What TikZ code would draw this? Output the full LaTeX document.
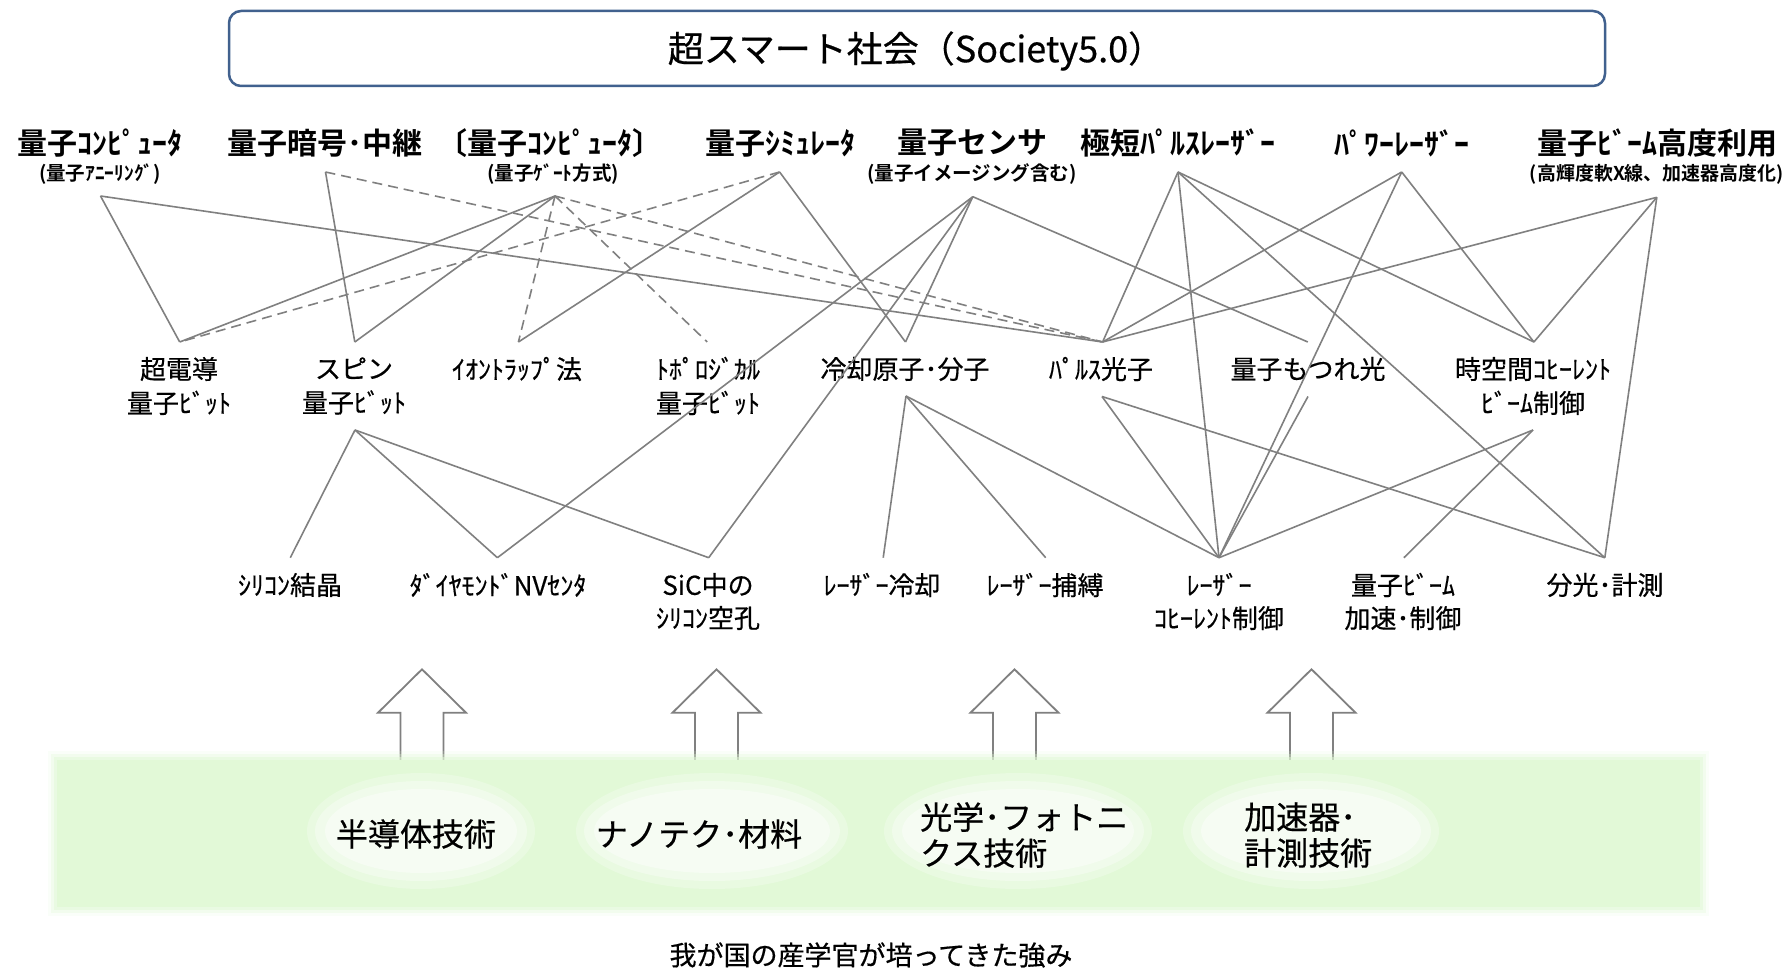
\documentclass[tikz,border=0pt]{standalone}
\usepackage{fontspec}
\setmainfont{Noto Sans CJK JP}[BoldFont={Noto Sans CJK JP Bold}]
\newfontfamily\jpmed{Noto Sans CJK JP}[FakeBold=0.5]
\definecolor{linegray}{RGB}{128,128,128}
\definecolor{boxblue}{RGB}{65,97,142}
\definecolor{bandgreen}{RGB}{226,249,215}
\tikzset{
  conn/.style={draw=linegray, line width=1.6pt},
  dconn/.style={conn, dash pattern=on 10pt off 6pt},
  toplabel/.style={font=\bfseries\fontsize{30}{34}\selectfont, inner sep=0pt},
  sublabel/.style={font=\bfseries\fontsize{19.5}{22}\selectfont, inner sep=0pt},
  midlabel/.style={font=\jpmed\fontsize{26}{34}\selectfont, align=center, inner sep=0pt},
  lowlabel/.style={font=\jpmed\fontsize{26}{33}\selectfont, align=center, inner sep=0pt},
  techlabel/.style={font=\jpmed\fontsize{32}{36}\selectfont, align=left, inner sep=0pt},
  arrowline/.style={draw=linegray, line width=1.8pt, line join=miter},
  uparrow/.pic={\draw[arrowline] (-21.5,99) -- (-21.5,43.4) -- (-44,43.4) -- (0,0) -- (44,43.4) -- (21.5,43.4) -- (21.5,99);},
}
\begin{document}
\begin{tikzpicture}[x=1pt,y=-1pt]
\useasboundingbox (0,0) rectangle (1789,971);
\fill[white] (0,0) rectangle (1789,971);

% title
\node[draw=boxblue, line width=2.5pt, rounded corners=12pt, minimum width=1376pt, minimum height=75pt, inner sep=0pt] (title) at (917,48.5) {};
\node[font=\jpmed\fontsize{36}{40}\selectfont, inner sep=0pt] (titletext) at (916,51) {超スマート社会（Society5.0）};

% upward block arrows
\pic at (422,669.3) {uparrow};
\pic at (716.5,669.3) {uparrow};
\pic at (1014.5,669.3) {uparrow};
\pic at (1311.5,669.3) {uparrow};

% band of strengths
\foreach \e/\o in {9/0.15,6/0.3,3/0.5}{
  \fill[bandgreen, opacity=\o] (57-\e,760-\e) rectangle (1700+\e,907+\e);
}
\fill[bandgreen] (57,760) rectangle (1700,907);
\foreach \cx/\rx in {421/114,712/136,1018/134,1311/128}{
  \fill[white, opacity=0.25] (\cx,831) ellipse [x radius=\rx, y radius=58];
  \fill[white, opacity=0.35] (\cx,831) ellipse [x radius=\rx-8, y radius=50];
  \fill[white, opacity=0.4] (\cx,831) ellipse [x radius=\rx-18, y radius=42];
}

% top row
\node[toplabel] (qc1) at (100,143) {量子ｺﾝﾋﾟｭｰﾀ};
\node[sublabel] (qc1s) at (100,174) {(量子ｱﾆｰﾘﾝｸﾞ)};
\node[toplabel] (qcr) at (325,143) {量子暗号･中継};
\node[toplabel] (qc2) at (550,143) {〔量子ｺﾝﾋﾟｭｰﾀ〕};
\node[sublabel] (qc2s) at (553,174) {(量子ｹﾞｰﾄ方式)};
\node[toplabel] (qsim) at (780,143) {量子ｼﾐｭﾚｰﾀ};
\node[toplabel] (qsen) at (972,143) {量子センサ};
\node[sublabel] (qsens) at (972,174) {(量子イメージング含む)};
\node[toplabel] (usl) at (1178,143) {極短ﾊﾟﾙｽﾚｰｻﾞｰ};
\node[toplabel] (pwl) at (1402,143) {ﾊﾟﾜｰﾚｰｻﾞｰ};
\node[toplabel] (qbm) at (1657,143) {量子ﾋﾞｰﾑ高度利用};
\node[sublabel, font=\bfseries\fontsize{19}{22}\selectfont] (qbms) at (1657,174) {(高輝度軟X線、加速器高度化)};

% middle row
\node[midlabel] (sc) at (179,386) {超電導\\量子ﾋﾞｯﾄ};
\node[midlabel] (spin) at (354,386) {スピン\\量子ﾋﾞｯﾄ};
\node[midlabel] (ion) at (517,369) {ｲｵﾝﾄﾗｯﾌﾟ法};
\node[midlabel] (topo) at (708,386) {ﾄﾎﾟﾛｼﾞｶﾙ\\量子ﾋﾞｯﾄ};
\node[midlabel] (cold) at (905,369) {冷却原子･分子};
\node[midlabel] (pulse) at (1101,369) {ﾊﾟﾙｽ光子};
\node[midlabel] (ent) at (1308,369) {量子もつれ光};
\node[midlabel] (stc) at (1533,386) {時空間ｺﾋｰﾚﾝﾄ\\ﾋﾞｰﾑ制御};

% lower row
\node[lowlabel] (si) at (290,585) {ｼﾘｺﾝ結晶};
\node[lowlabel] (nv) at (498,585) {ﾀﾞｲﾔﾓﾝﾄﾞNVｾﾝﾀ};
\node[lowlabel] (sic) at (708,601.5) {SiC中の\\ｼﾘｺﾝ空孔};
\node[lowlabel] (lcool) at (882,585) {ﾚｰｻﾞｰ冷却};
\node[lowlabel] (ltrap) at (1045,585) {ﾚｰｻﾞｰ捕縛};
\node[lowlabel] (lcoh) at (1219,601.5) {ﾚｰｻﾞｰ\\ｺﾋｰﾚﾝﾄ制御};
\node[lowlabel] (qbacc) at (1403,601.5) {量子ﾋﾞｰﾑ\\加速･制御};
\node[lowlabel] (spec) at (1605,585) {分光･計測};

% technology band labels
\node[techlabel] (semi) at (416,834) {半導体技術};
\node[techlabel] (nano) at (699,834) {ナノテク･材料};
\node[techlabel, anchor=west] (opt) at (920,835) {光学･フォトニ\\クス技術};
\node[techlabel, anchor=west] (acc) at (1244,835) {加速器･\\計測技術};
\node[font=\jpmed\fontsize{27}{30}\selectfont, inner sep=0pt] (foot) at (871,955) {我が国の産学官が培ってきた強み};

% connector anchors
\coordinate (a-qc1) at (100.5,196);
\coordinate (a-qcr) at (325.5,172);
\coordinate (a-qc2) at (555,196);
\coordinate (a-qsim) at (779.6,172);
\coordinate (a-qsen) at (972.8,196.7);
\coordinate (a-usl) at (1178,172);
\coordinate (a-pwl) at (1401.7,172);
\coordinate (a-qbm) at (1656.8,197.3);

\coordinate (t-sc) at (179.7,342);
\coordinate (t-spin) at (354.8,342);
\coordinate (t-ion) at (518.4,342);
\coordinate (t-topo) at (707.2,342);
\coordinate (t-cold) at (905.5,342);
\coordinate (t-pulse) at (1102.6,342);
\coordinate (t-ent) at (1307.8,342);
\coordinate (t-stc) at (1533.9,342);

\coordinate (b-spin) at (355,430);
\coordinate (b-cold) at (906,396);
\coordinate (b-pulse) at (1102,396.5);
\coordinate (b-ent) at (1308,396.5);
\coordinate (b-stc) at (1533,430);

\coordinate (t-si) at (290.3,557.7);
\coordinate (t-nv) at (497.4,557.7);
\coordinate (t-sic) at (708.7,557.7);
\coordinate (t-lcool) at (883.2,557.7);
\coordinate (t-ltrap) at (1045.7,557.7);
\coordinate (t-lcoh) at (1219,557.7);
\coordinate (t-qbacc) at (1403.9,557.7);
\coordinate (t-spec) at (1604.8,557.7);

% dashed connectors
\draw[dconn] (a-qcr) -- (t-pulse);
\draw[dconn] (a-qc2) -- (t-pulse);
\draw[dconn] (a-qc2) -- (t-ion);
\draw[dconn] (a-qc2) -- (t-topo);
\draw[dconn] (a-qsim) -- (t-sc);

% solid connectors, top to middle
\draw[conn] (a-qc1) -- (t-sc);
\draw[conn] (a-qc1) -- (t-pulse);
\draw[conn] (a-qcr) -- (t-spin);
\draw[conn] (a-qc2) -- (t-sc);
\draw[conn] (a-qc2) -- (t-spin);
\draw[conn] (a-qsim) -- (t-ion);
\draw[conn] (a-qsim) -- (t-cold);
\draw[conn] (a-qsen) -- (t-cold);
\draw[conn] (a-qsen) -- (t-ent);
\draw[conn] (a-qsen) -- (t-nv);
\draw[conn] (a-qsen) -- (t-sic);
\draw[conn] (a-usl) -- (t-pulse);
\draw[conn] (a-usl) -- (t-stc);
\draw[conn] (a-usl) -- (t-lcoh);
\draw[conn] (a-usl) -- (t-spec);
\draw[conn] (a-pwl) -- (t-pulse);
\draw[conn] (a-pwl) -- (t-stc);
\draw[conn] (a-pwl) -- (t-lcoh);
\draw[conn] (a-qbm) -- (t-pulse);
\draw[conn] (a-qbm) -- (t-stc);
\draw[conn] (a-qbm) -- (t-spec);

% middle to lower
\draw[conn] (b-spin) -- (t-si);
\draw[conn] (b-spin) -- (t-nv);
\draw[conn] (b-spin) -- (t-sic);
\draw[conn] (b-cold) -- (t-lcool);
\draw[conn] (b-cold) -- (t-ltrap);
\draw[conn] (b-cold) -- (t-lcoh);
\draw[conn] (b-pulse) -- (t-lcoh);
\draw[conn] (b-pulse) -- (t-spec);
\draw[conn] (b-ent) -- (t-lcoh);
\draw[conn] (b-stc) -- (t-lcoh);
\draw[conn] (b-stc) -- (t-qbacc);
\end{tikzpicture}
\end{document}
